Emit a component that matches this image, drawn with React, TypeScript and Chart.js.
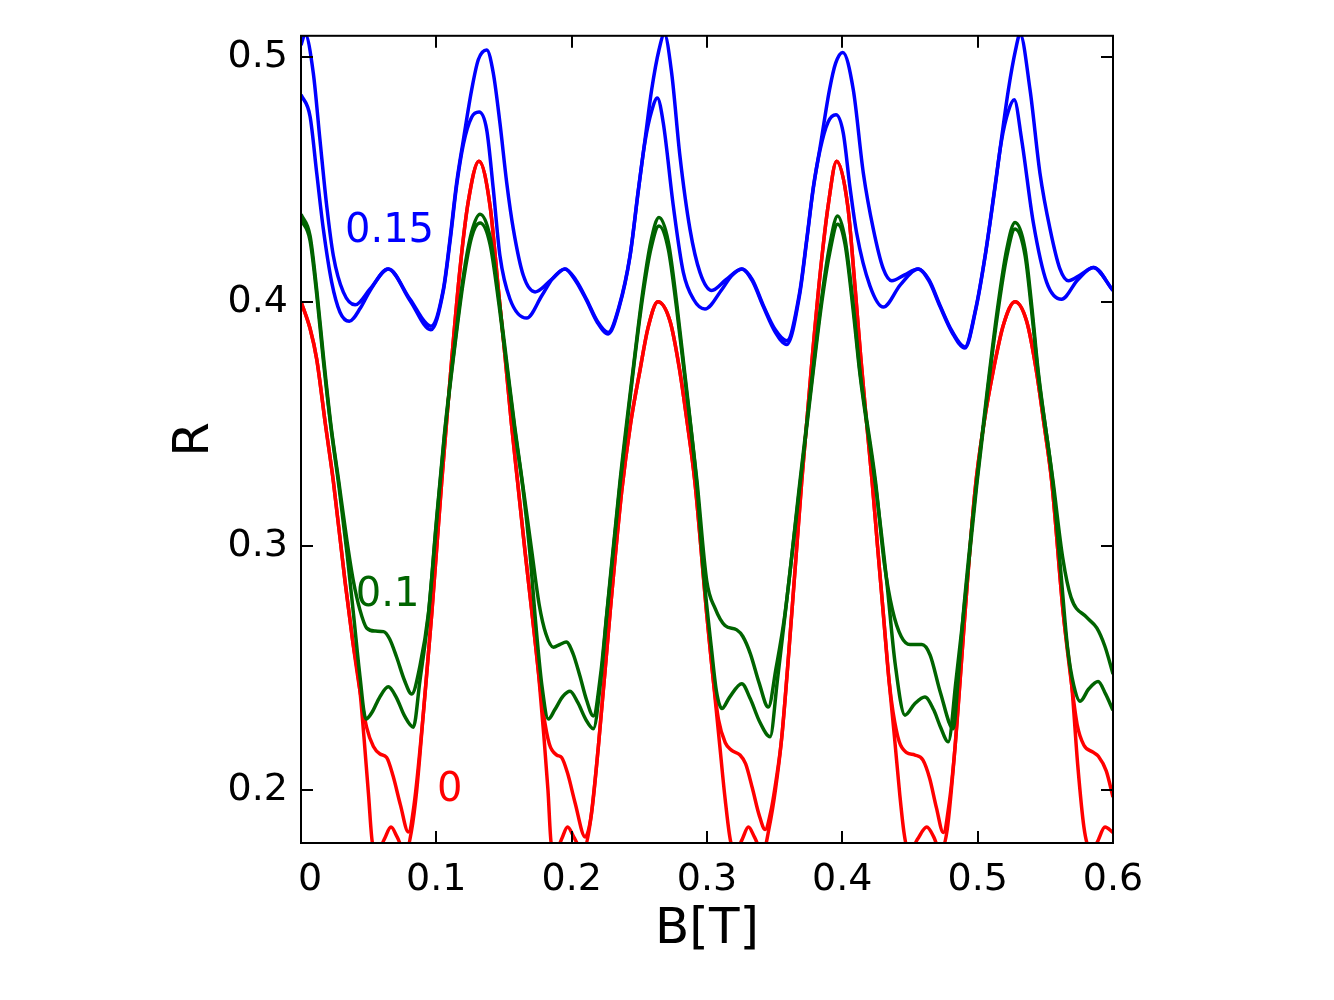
import React, { useEffect, useRef } from "react";
import { Chart, registerables } from "chart.js";

Chart.register(...registerables);

type Pt = [number, number];

// Axis set-up
const xRange: [number, number] = [0, 0.6];
const yRange: [number, number] = [0.1785, 0.5088];
const xTicks = [0, 0.1, 0.2, 0.3, 0.4, 0.5, 0.6];
const xTickLabels = ["0", "0.1", "0.2", "0.3", "0.4", "0.5", "0.6"];
const yTicks = [0.2, 0.3, 0.4, 0.5];
const yTickLabels = ["0.2", "0.3", "0.4", "0.5"];

// R(B) for 0.15 (two branches)
const blueHigh: Pt[] = [
  [0, 0.505], [0.003, 0.5095], [0.0091, 0.4935], [0.014, 0.4663], [0.019, 0.4392], [0.0239, 0.4188],
  [0.0313, 0.4039], [0.04, 0.3987], [0.051, 0.4052], [0.0645, 0.4134], [0.0805, 0.4011], [0.096, 0.39],
  [0.1052, 0.4052], [0.1101, 0.4256], [0.115, 0.4487], [0.12, 0.4663], [0.1261, 0.4867], [0.131, 0.499],
  [0.1372, 0.503], [0.1421, 0.4935], [0.147, 0.4731], [0.152, 0.4487], [0.1569, 0.4297], [0.1643, 0.4107],
  [0.173, 0.404], [0.185, 0.409], [0.195, 0.4134], [0.203, 0.409], [0.211, 0.401], [0.219, 0.392],
  [0.227, 0.3874], [0.235, 0.398], [0.2431, 0.4188], [0.2493, 0.446], [0.2542, 0.4663], [0.2591, 0.4867],
  [0.2645, 0.503], [0.2685, 0.5095], [0.2739, 0.4935], [0.28, 0.4596], [0.2874, 0.4297], [0.2948, 0.412],
  [0.3035, 0.4046], [0.314, 0.409], [0.3257, 0.4134], [0.3335, 0.409], [0.3416, 0.3985], [0.3505, 0.3885],
  [0.359, 0.384], [0.3685, 0.404], [0.3737, 0.4256], [0.3786, 0.447], [0.3835, 0.463], [0.3905, 0.4867],
  [0.395, 0.4975], [0.4003, 0.502], [0.4081, 0.4867], [0.4155, 0.4527], [0.4229, 0.4297], [0.4303, 0.4134],
  [0.4365, 0.4086], [0.446, 0.411], [0.456, 0.4134], [0.464, 0.409], [0.4722, 0.3985], [0.481, 0.388],
  [0.4906, 0.3815], [0.4985, 0.397], [0.5055, 0.4188], [0.5125, 0.446], [0.5175, 0.4663], [0.5227, 0.4867],
  [0.528, 0.503], [0.5313, 0.5095], [0.5387, 0.4867], [0.546, 0.4527], [0.5535, 0.4297], [0.5608, 0.4134],
  [0.567, 0.4086], [0.576, 0.411], [0.5855, 0.414], [0.6, 0.4046],
];

const blueLow: Pt[] = [
  [0, 0.4847], [0.0067, 0.4758], [0.0116, 0.4527], [0.0165, 0.4297], [0.0227, 0.4079], [0.0288, 0.3957],
  [0.0357, 0.392], [0.044, 0.3975], [0.051, 0.4045], [0.0645, 0.4134], [0.0805, 0.4005], [0.096, 0.3885],
  [0.1052, 0.4045], [0.1101, 0.4245], [0.115, 0.4475], [0.12, 0.4645], [0.1261, 0.4755], [0.1316, 0.4776],
  [0.1372, 0.4704], [0.1421, 0.446], [0.147, 0.4188], [0.1544, 0.4011], [0.1668, 0.3933], [0.178, 0.4025],
  [0.186, 0.4095], [0.195, 0.4134], [0.203, 0.4085], [0.211, 0.4005], [0.219, 0.3915], [0.227, 0.3868],
  [0.235, 0.3975], [0.2431, 0.4185], [0.2493, 0.4455], [0.2542, 0.4655], [0.2591, 0.478], [0.2633, 0.4833],
  [0.2677, 0.4731], [0.2751, 0.4392], [0.2825, 0.412], [0.2899, 0.4011], [0.2985, 0.397], [0.311, 0.405],
  [0.318, 0.4105], [0.3257, 0.4134], [0.3335, 0.4085], [0.3416, 0.398], [0.3505, 0.3875], [0.359, 0.3825],
  [0.3685, 0.403], [0.3737, 0.425], [0.3786, 0.4465], [0.3835, 0.462], [0.3895, 0.4735], [0.3953, 0.4765],
  [0.4007, 0.469], [0.4056, 0.447], [0.4106, 0.428], [0.4204, 0.4065], [0.4303, 0.3978], [0.443, 0.407],
  [0.456, 0.4134], [0.464, 0.4085], [0.4722, 0.398], [0.481, 0.3875], [0.4906, 0.381], [0.4985, 0.3965],
  [0.5055, 0.4185], [0.5125, 0.4455], [0.5175, 0.4655], [0.5227, 0.478], [0.527, 0.4826], [0.5325, 0.4663],
  [0.5411, 0.4324], [0.551, 0.4079], [0.562, 0.401], [0.574, 0.409], [0.5855, 0.414], [0.6, 0.4046],
];

// R(B) for 0.1 (two branches)
const greenUpper: Pt[] = [
  [0, 0.4358], [0.0067, 0.427], [0.0116, 0.405], [0.0165, 0.378], [0.022, 0.35], [0.0279, 0.3265],
  [0.034, 0.302], [0.0387, 0.2857], [0.0435, 0.274], [0.0485, 0.2665], [0.055, 0.2652], [0.061, 0.265],
  [0.0655, 0.262], [0.0707, 0.2545], [0.0765, 0.245], [0.0818, 0.2395], [0.0879, 0.251], [0.0941, 0.2722],
  [0.1, 0.31], [0.106, 0.346], [0.1126, 0.378], [0.12, 0.4105], [0.1261, 0.4285], [0.1323, 0.4358],
  [0.1397, 0.4265], [0.1465, 0.4], [0.1525, 0.373], [0.158, 0.3485], [0.164, 0.3245], [0.1705, 0.298],
  [0.176, 0.276], [0.181, 0.264], [0.1865, 0.2586], [0.1915, 0.2598], [0.196, 0.2607], [0.201, 0.256],
  [0.206, 0.247], [0.211, 0.237], [0.216, 0.2305], [0.2215, 0.248], [0.2259, 0.2722], [0.2357, 0.3265],
  [0.2462, 0.376], [0.2525, 0.404], [0.2585, 0.4245], [0.2645, 0.4344], [0.2714, 0.4245], [0.2776, 0.3995],
  [0.2835, 0.371], [0.2926, 0.3265], [0.2998, 0.2857], [0.306, 0.2745], [0.3133, 0.2675], [0.322, 0.2657],
  [0.3265, 0.263], [0.332, 0.256], [0.3385, 0.244], [0.3453, 0.2341], [0.351, 0.25], [0.3576, 0.2722],
  [0.3687, 0.3265], [0.3786, 0.3735], [0.385, 0.4025], [0.3905, 0.4225], [0.3965, 0.4351], [0.402, 0.4256],
  [0.4081, 0.3985], [0.4131, 0.3713], [0.4245, 0.3265], [0.431, 0.293], [0.437, 0.274], [0.4435, 0.263],
  [0.45, 0.2597], [0.4587, 0.2597], [0.4648, 0.2555], [0.4725, 0.24], [0.482, 0.2253], [0.4855, 0.245],
  [0.4894, 0.2722], [0.4993, 0.3265], [0.5075, 0.3655], [0.5145, 0.3965], [0.5215, 0.4215], [0.5276, 0.4324],
  [0.535, 0.4215], [0.5399, 0.3985], [0.5448, 0.3713], [0.5557, 0.3265], [0.5629, 0.295], [0.569, 0.279],
  [0.5806, 0.2708], [0.588, 0.2665], [0.594, 0.259], [0.6, 0.2477],
];

const greenLower: Pt[] = [
  [0, 0.4335], [0.0067, 0.425], [0.0116, 0.403], [0.0165, 0.376], [0.022, 0.349], [0.0279, 0.325],
  [0.034, 0.297], [0.039, 0.271], [0.0435, 0.247], [0.048, 0.2292], [0.0525, 0.232], [0.058, 0.238],
  [0.0645, 0.2424], [0.0705, 0.238], [0.0765, 0.2305], [0.083, 0.2259], [0.0879, 0.245], [0.0941, 0.2715],
  [0.1, 0.309], [0.106, 0.345], [0.1126, 0.377], [0.12, 0.4085], [0.1261, 0.4265], [0.1323, 0.4322],
  [0.1397, 0.4235], [0.1465, 0.398], [0.1525, 0.3715], [0.158, 0.3475], [0.164, 0.3235], [0.169, 0.298],
  [0.1735, 0.268], [0.178, 0.243], [0.1828, 0.2292], [0.1875, 0.233], [0.1935, 0.2385], [0.1988, 0.2406],
  [0.2045, 0.236], [0.2105, 0.229], [0.216, 0.2253], [0.2215, 0.245], [0.2259, 0.2715], [0.2357, 0.325],
  [0.2462, 0.375], [0.2525, 0.402], [0.2585, 0.4215], [0.2645, 0.431], [0.2714, 0.4215], [0.2776, 0.397],
  [0.2835, 0.3695], [0.2926, 0.3245], [0.2973, 0.29], [0.3035, 0.257], [0.307, 0.2405], [0.311, 0.2335],
  [0.3165, 0.238], [0.3257, 0.2437], [0.332, 0.2375], [0.339, 0.228], [0.3466, 0.222], [0.352, 0.245],
  [0.3576, 0.2715], [0.3687, 0.325], [0.3786, 0.372], [0.385, 0.4005], [0.3905, 0.4195], [0.3965, 0.4317],
  [0.402, 0.4235], [0.4081, 0.396], [0.4131, 0.37], [0.4245, 0.325], [0.4328, 0.2857], [0.439, 0.252],
  [0.4463, 0.2308], [0.4535, 0.2355], [0.461, 0.2382], [0.4675, 0.233], [0.4725, 0.226], [0.4783, 0.2199],
  [0.484, 0.245], [0.4894, 0.2715], [0.4993, 0.325], [0.5075, 0.364], [0.5145, 0.394], [0.5215, 0.4185],
  [0.5276, 0.4297], [0.535, 0.419], [0.5399, 0.396], [0.5448, 0.37], [0.5557, 0.325], [0.5615, 0.289],
  [0.5665, 0.258], [0.571, 0.243], [0.5757, 0.2365], [0.582, 0.2415], [0.589, 0.2446], [0.5945, 0.2395],
  [0.6, 0.2328],
];

// R(B) for 0 (two branches)
const redShoulder: Pt[] = [
  [0, 0.4], [0.0067, 0.389], [0.0116, 0.3765], [0.018, 0.35], [0.0239, 0.3265], [0.0325, 0.2857],
  [0.038, 0.262], [0.0435, 0.241], [0.0485, 0.2258], [0.0535, 0.218], [0.0584, 0.2149], [0.0633, 0.2135],
  [0.068, 0.206], [0.0735, 0.194], [0.0793, 0.183], [0.0835, 0.194], [0.0904, 0.2315], [0.0966, 0.2722],
  [0.104, 0.3265], [0.1113, 0.376], [0.1175, 0.4135], [0.1236, 0.441], [0.1315, 0.4575], [0.1397, 0.4392],
  [0.1458, 0.4052], [0.1507, 0.378], [0.1555, 0.35], [0.16, 0.3265], [0.1655, 0.298], [0.1712, 0.27],
  [0.1755, 0.248], [0.179, 0.232], [0.1835, 0.219], [0.189, 0.2145], [0.1926, 0.2135], [0.197, 0.207],
  [0.2025, 0.195], [0.21, 0.181], [0.2145, 0.19], [0.2197, 0.2178], [0.2283, 0.2722], [0.237, 0.3225],
  [0.2435, 0.35], [0.2505, 0.372], [0.2565, 0.3895], [0.2637, 0.4], [0.2727, 0.392], [0.2795, 0.373],
  [0.2855, 0.35], [0.291, 0.3265], [0.2998, 0.2722], [0.3045, 0.246], [0.3085, 0.229], [0.3135, 0.2195],
  [0.318, 0.2165], [0.3244, 0.2145], [0.3285, 0.211], [0.3335, 0.201], [0.3385, 0.19], [0.343, 0.184],
  [0.347, 0.191], [0.351, 0.204], [0.3552, 0.2215], [0.3626, 0.2722], [0.37, 0.3265], [0.3775, 0.3755],
  [0.3838, 0.4125], [0.3897, 0.44], [0.3958, 0.4575], [0.404, 0.4392], [0.4095, 0.4052], [0.4135, 0.378],
  [0.418, 0.35], [0.422, 0.3265], [0.426, 0.3], [0.4303, 0.2722], [0.4345, 0.245], [0.4375, 0.232],
  [0.442, 0.22], [0.4475, 0.2155], [0.4537, 0.2145], [0.4595, 0.2125], [0.4645, 0.205], [0.4695, 0.193],
  [0.4746, 0.1828], [0.479, 0.195], [0.4833, 0.2178], [0.4906, 0.2722], [0.498, 0.3225], [0.505, 0.3515],
  [0.5116, 0.372], [0.519, 0.3905], [0.5276, 0.4], [0.5362, 0.392], [0.543, 0.373], [0.549, 0.35],
  [0.5547, 0.3265], [0.5633, 0.2722], [0.5695, 0.243], [0.5735, 0.227], [0.5785, 0.2185], [0.5855, 0.2156],
  [0.5892, 0.214], [0.595, 0.208], [0.6, 0.1973],
];

const redDeep: Pt[] = [
  [0, 0.4], [0.0067, 0.389], [0.0116, 0.3765], [0.018, 0.35], [0.0239, 0.3265], [0.0325, 0.2857],
  [0.038, 0.262], [0.0435, 0.241], [0.0465, 0.222], [0.0498, 0.199], [0.053, 0.178], [0.0575, 0.176],
  [0.0615, 0.18], [0.0665, 0.185], [0.071, 0.181], [0.0745, 0.177], [0.078, 0.176], [0.0815, 0.183],
  [0.0855, 0.2], [0.0904, 0.2315], [0.0966, 0.2722], [0.104, 0.3265], [0.1113, 0.376], [0.1175, 0.4135],
  [0.1236, 0.441], [0.1315, 0.4575], [0.1397, 0.4392], [0.1458, 0.4052], [0.1507, 0.378], [0.1555, 0.35],
  [0.16, 0.3265], [0.1655, 0.298], [0.1712, 0.27], [0.1755, 0.248], [0.1795, 0.222], [0.1825, 0.2],
  [0.185, 0.178], [0.189, 0.176], [0.1925, 0.18], [0.197, 0.185], [0.2015, 0.181], [0.2055, 0.177],
  [0.2087, 0.176], [0.2135, 0.186], [0.2197, 0.2178], [0.2283, 0.2722], [0.237, 0.3225], [0.2435, 0.35],
  [0.2505, 0.372], [0.2565, 0.3895], [0.2637, 0.4], [0.2727, 0.392], [0.2795, 0.373], [0.2855, 0.35],
  [0.291, 0.3265], [0.2998, 0.2722], [0.3045, 0.246], [0.3095, 0.218], [0.3135, 0.196], [0.318, 0.178],
  [0.322, 0.176], [0.326, 0.18], [0.3306, 0.185], [0.335, 0.181], [0.3385, 0.177], [0.342, 0.176],
  [0.346, 0.185], [0.3505, 0.2], [0.3552, 0.2215], [0.3626, 0.2722], [0.37, 0.3265], [0.3775, 0.3755],
  [0.3838, 0.4125], [0.3897, 0.44], [0.3958, 0.4575], [0.404, 0.4392], [0.4095, 0.4052], [0.4135, 0.378],
  [0.418, 0.35], [0.422, 0.3265], [0.426, 0.3], [0.4303, 0.2722], [0.4345, 0.245], [0.4385, 0.222],
  [0.4425, 0.198], [0.4455, 0.183], [0.4476, 0.177], [0.451, 0.176], [0.4555, 0.18], [0.4624, 0.185],
  [0.4675, 0.181], [0.4705, 0.177], [0.4735, 0.176], [0.4775, 0.184], [0.4833, 0.2178], [0.4906, 0.2722],
  [0.498, 0.3225], [0.505, 0.3515], [0.5116, 0.372], [0.519, 0.3905], [0.5276, 0.4], [0.5362, 0.392],
  [0.543, 0.373], [0.549, 0.35], [0.5547, 0.3265], [0.5633, 0.2722], [0.5695, 0.243], [0.574, 0.21],
  [0.5785, 0.185], [0.5818, 0.177], [0.585, 0.176], [0.5885, 0.179], [0.5941, 0.185], [0.6, 0.1828],
];

const curveColors = { blue: "#0000ff", green: "#006400", red: "#ff0000" };

// In-plot curve labels, anchored in data coordinates (left edge, vertical centre)
const curveLabels = [
  { text: "0.15", x: 0.0325, y: 0.4287, color: curveColors.blue },
  { text: "0.1", x: 0.0405, y: 0.2796, color: curveColors.green },
  { text: "0", x: 0.1005, y: 0.2, color: curveColors.red },
];

const FONT = "'DejaVu Sans', sans-serif";
const TICK_FONT = `38px ${FONT}`;

const toXY = (pts: Pt[]) => pts.map(([x, y]) => ({ x, y }));

const framePlugin = {
  id: "frameAndTicks",
  afterDatasetsDraw(chart: any) {
    const { ctx, chartArea: a, scales } = chart;
    const len = 12;
    ctx.save();
    ctx.strokeStyle = "#000";
    ctx.lineWidth = 2;
    ctx.beginPath();
    for (const v of xTicks) {
      const px = Math.round(scales.x.getPixelForValue(v));
      ctx.moveTo(px, a.bottom);
      ctx.lineTo(px, a.bottom - len);
      ctx.moveTo(px, a.top);
      ctx.lineTo(px, a.top + len);
    }
    for (const v of yTicks) {
      const py = Math.round(scales.y.getPixelForValue(v));
      ctx.moveTo(a.left, py);
      ctx.lineTo(a.left + len, py);
      ctx.moveTo(a.right, py);
      ctx.lineTo(a.right - len, py);
    }
    ctx.stroke();
    ctx.strokeRect(a.left, a.top, a.right - a.left, a.bottom - a.top);

    // x tick labels; the "0" at the origin sits just right of the corner
    ctx.fillStyle = "#000";
    ctx.font = TICK_FONT;
    ctx.textAlign = "center";
    ctx.textBaseline = "alphabetic";
    xTicks.forEach((v, i) => {
      const px = scales.x.getPixelForValue(v) + (i === 0 ? 9 : 0);
      ctx.fillText(xTickLabels[i], px, a.bottom + 47);
    });
    ctx.restore();
  },
};

const labelPlugin = {
  id: "curveLabels",
  afterDatasetsDraw(chart: any) {
    const { ctx, scales } = chart;
    ctx.save();
    ctx.font = `40px ${FONT}`;
    ctx.textAlign = "left";
    ctx.textBaseline = "middle";
    for (const l of curveLabels) {
      ctx.fillStyle = l.color;
      ctx.fillText(l.text, scales.x.getPixelForValue(l.x), scales.y.getPixelForValue(l.y));
    }
    ctx.restore();
  },
};

const line = (data: Pt[], color: string) => ({
  data: toXY(data),
  borderColor: color,
  borderWidth: 3.5,
  pointRadius: 0,
  fill: false,
  cubicInterpolationMode: "monotone" as const,
  clip: 0,
});

export default function App() {
  const canvasRef = useRef<HTMLCanvasElement | null>(null);

  useEffect(() => {
    const canvas = canvasRef.current;
    if (!canvas) return;
    const chart = new Chart(canvas, {
      type: "line",
      data: {
        datasets: [
          line(blueHigh, curveColors.blue),
          line(blueLow, curveColors.blue),
          line(greenUpper, curveColors.green),
          line(greenLower, curveColors.green),
          line(redShoulder, curveColors.red),
          line(redDeep, curveColors.red),
        ],
      },
      options: {
        animation: false,
        responsive: false,
        devicePixelRatio: 1,
        parsing: false,
        layout: { padding: { left: 0, top: 32, right: 221, bottom: 0 } },
        plugins: { legend: { display: false }, tooltip: { enabled: false } },
        scales: {
          x: {
            type: "linear",
            min: xRange[0],
            max: xRange[1],
            afterBuildTicks: (s: any) => {
              s.ticks = xTicks.map((value) => ({ value }));
            },
            afterFit: (s: any) => {
              s.height = 157;
            },
            ticks: { display: false },
            grid: { display: false, drawTicks: false },
            border: { display: false },
            title: {
              display: true,
              text: "B[T]",
              color: "#000",
              font: { family: FONT, size: 50 },
              padding: { top: 0, bottom: 40 },
            },
          },
          y: {
            type: "linear",
            min: yRange[0],
            max: yRange[1],
            afterBuildTicks: (s: any) => {
              s.ticks = yTicks.map((value) => ({ value }));
            },
            afterFit: (s: any) => {
              s.width = 301;
            },
            ticks: {
              autoSkip: false,
              padding: 13,
              color: "#000",
              font: { family: FONT, size: 38 },
              callback: (_v: any, i: number) => yTickLabels[i],
            },
            grid: { display: false, drawTicks: false },
            border: { display: false },
            title: {
              display: true,
              text: "R",
              color: "#000",
              font: { family: FONT, size: 50 },
              padding: { top: 165, bottom: 0 },
            },
          },
        },
      },
      plugins: [framePlugin, labelPlugin],
    });
    return () => chart.destroy();
  }, []);

  return (
    <div style={{ position: "absolute", left: 0, top: 0, width: 1334, height: 1000, background: "#fff" }}>
      <canvas ref={canvasRef} width={1334} height={1000} style={{ display: "block" }} />
    </div>
  );
}
